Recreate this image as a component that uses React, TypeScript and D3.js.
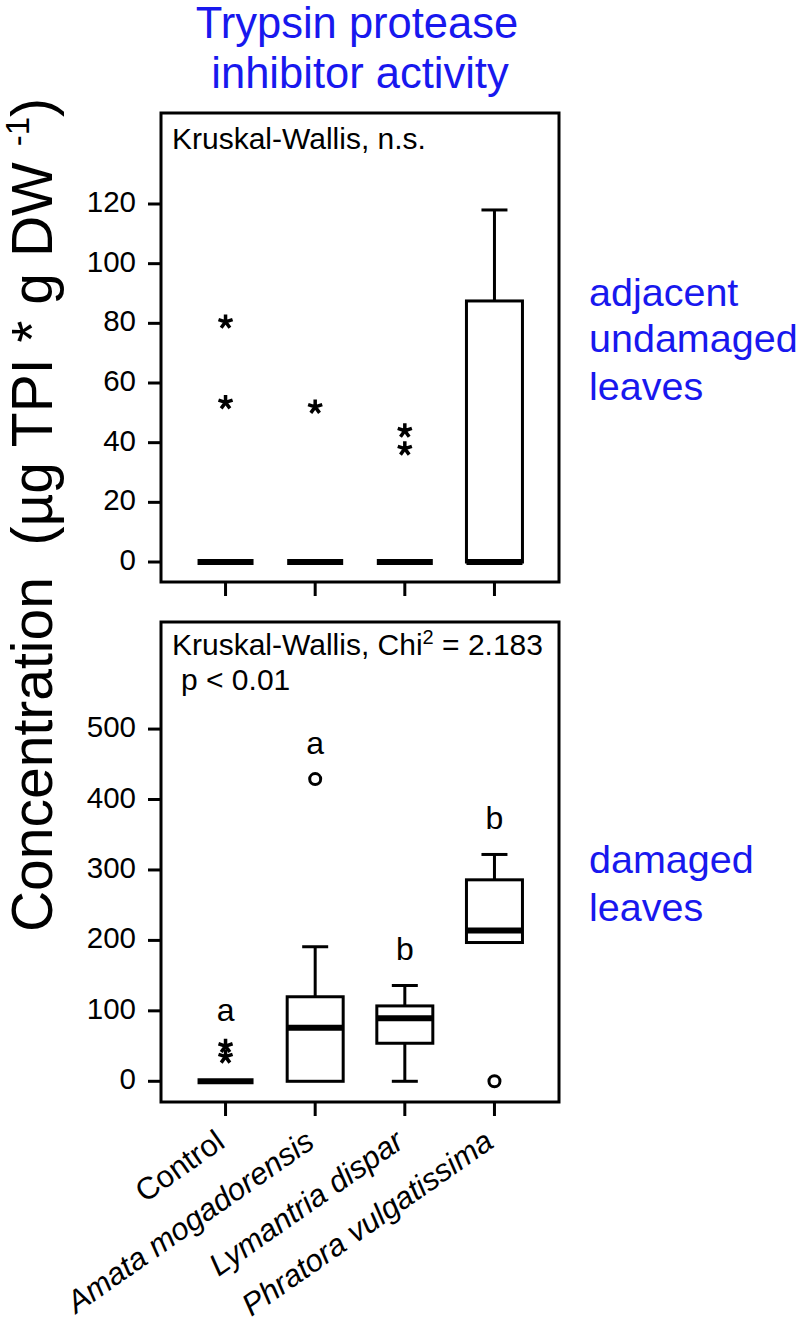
import React from 'react';
import * as d3 from 'd3';

// ---------- data ----------
const categories = ['Control', 'Amata mogadorensis', 'Lymantria dispar', 'Phratora vulgatissima'];
const italicLabel = [false, true, true, true];

// top panel: adjacent undamaged leaves
const topQ1 = [0, 0, 0, 0];
const topMedian = [0, 0, 0, 0];
const topQ3 = [0, 0, 0, 87.5];
const topWhiskerLow = [0, 0, 0, 0];
const topWhiskerHigh = [0, 0, 0, 118];
const topStars = [[80.5, 53.5], [52], [44, 38], []];
const topCircles: number[][] = [[], [], [], []];
const topTicks = [0, 20, 40, 60, 80, 100, 120];
const topTest = 'Kruskal-Wallis, n.s.';

// bottom panel: damaged leaves
const botQ1 = [0, 0, 54, 197];
const botMedian = [0, 76, 89.5, 214];
const botQ3 = [0, 120, 107, 286];
const botWhiskerLow = [0, 0, 0, 197];
const botWhiskerHigh = [0, 191, 136, 322];
const botStars = [[50, 35], [], [], []];
const botCircles = [[], [429], [], [0]];
const botLetters = ['a', 'a', 'b', 'b'];
const botTicks = [0, 100, 200, 300, 400, 500];

const FONT = '"Liberation Sans", Arial, Helvetica, sans-serif';
const BLUE = '#1818ee';

// 5-armed asterisk symbol
const asterisk = {
  draw(ctx: any, size: number) {
    const r = Math.sqrt(size) / 2;
    for (let k = 0; k < 5; k++) {
      const a = -Math.PI / 2 + (k * 2 * Math.PI) / 5;
      ctx.moveTo(0, 0);
      ctx.lineTo(r * Math.cos(a), r * Math.sin(a));
    }
  },
};
const starPath = d3.symbol().type(asterisk as any).size(220)() as string;

const x = d3.scalePoint<string>().domain(categories).range([161, 559]).padding(0.72);

type PanelProps = {
  top: number; bottom: number; domain: [number, number]; ticks: number[];
  q1: number[]; med: number[]; q3: number[]; wlo: number[]; whi: number[];
  stars: number[][]; circles: number[][]; letters?: string[];
};

function Panel(p: PanelProps) {
  const y = d3.scaleLinear().domain(p.domain).range([p.bottom, p.top]);
  const left = 161, right = 559;
  const bw = 56, cap = 26;
  return (
    <g>
      <rect x={left} y={p.top} width={right - left} height={p.bottom - p.top} fill="none" stroke="#000" strokeWidth={3} />
      {p.ticks.map((t) => (
        <g key={t}>
          <line x1={148} x2={left} y1={y(t)} y2={y(t)} stroke="#000" strokeWidth={3} />
          <text x={136} y={y(t) + 8} textAnchor="end" fontSize={29.5} fontFamily={FONT}>{t}</text>
        </g>
      ))}
      {categories.map((c) => (
        <line key={c} x1={x(c)} x2={x(c)} y1={p.bottom} y2={p.bottom + 14} stroke="#000" strokeWidth={3} />
      ))}
      {categories.map((c, i) => {
        const cx = x(c) as number;
        const hasBox = p.q3[i] > p.q1[i];
        return (
          <g key={c}>
            {p.whi[i] > p.q3[i] && (
              <g>
                <line x1={cx} x2={cx} y1={y(p.q3[i])} y2={y(p.whi[i])} stroke="#000" strokeWidth={3} />
                <line x1={cx - cap / 2} x2={cx + cap / 2} y1={y(p.whi[i])} y2={y(p.whi[i])} stroke="#000" strokeWidth={3} />
              </g>
            )}
            {p.wlo[i] < p.q1[i] && (
              <g>
                <line x1={cx} x2={cx} y1={y(p.q1[i])} y2={y(p.wlo[i])} stroke="#000" strokeWidth={3} />
                <line x1={cx - cap / 2} x2={cx + cap / 2} y1={y(p.wlo[i])} y2={y(p.wlo[i])} stroke="#000" strokeWidth={3} />
              </g>
            )}
            {hasBox && (
              <rect x={cx - bw / 2} y={y(p.q3[i])} width={bw} height={y(p.q1[i]) - y(p.q3[i])} fill="#fff" stroke="#000" strokeWidth={3} />
            )}
            <line x1={cx - bw / 2} x2={cx + bw / 2} y1={y(p.med[i])} y2={y(p.med[i])} stroke="#000" strokeWidth={6} />
            {p.stars[i].map((v, j) => (
              <path key={'s' + j} d={starPath} transform={`translate(${cx},${y(v)})`} fill="none" stroke="#000" strokeWidth={3.5} />
            ))}
            {p.circles[i].map((v, j) => (
              <circle key={'c' + j} cx={cx} cy={y(v)} r={5.5} fill="#fff" stroke="#000" strokeWidth={3} />
            ))}
            {p.letters && (
              <text x={cx} y={y(Math.max(p.whi[i], ...p.stars[i], ...p.circles[i])) - 25} textAnchor="middle" fontSize={32} fontFamily={FONT}>
                {p.letters[i]}
              </text>
            )}
          </g>
        );
      })}
    </g>
  );
}

export default function App() {
  return (
    <svg width={799} height={1322} style={{ position: 'absolute', left: 0, top: 0, background: '#fff' }} fontFamily={FONT}>
      <rect width={799} height={1322} fill="#fff" />
      <text x={357} y={38} textAnchor="middle" fontSize={43.5} fill={BLUE}>Trypsin protease</text>
      <text x={360} y={88} textAnchor="middle" fontSize={43.5} fill={BLUE}>inhibitor activity</text>

      <Panel top={113} bottom={582} domain={[-6.7, 150.5]} ticks={topTicks}
        q1={topQ1} med={topMedian} q3={topQ3} wlo={topWhiskerLow} whi={topWhiskerHigh}
        stars={topStars} circles={topCircles} />
      <text x={172} y={149} fontSize={30}>{topTest}</text>

      <Panel top={622} bottom={1102} domain={[-29.4, 652]} ticks={botTicks}
        q1={botQ1} med={botMedian} q3={botQ3} wlo={botWhiskerLow} whi={botWhiskerHigh}
        stars={botStars} circles={botCircles} letters={botLetters} />
      <text x={172} y={655} fontSize={30}>
        Kruskal-Wallis, Chi<tspan fontSize={20} dy={-11}>2</tspan><tspan dy={11}> = 2.183</tspan>
      </text>
      <text x={181} y={690} fontSize={30}>p &lt; 0.01</text>

      {categories.map((c, i) => (
        <text key={c} transform={`translate(${(x(c) as number) + 1},${1146}) rotate(-35)`} textAnchor="end"
          fontSize={31} fontStyle={italicLabel[i] ? 'italic' : 'normal'}>{c}</text>
      ))}

      <text transform="translate(52,515) rotate(-90)" textAnchor="middle" fontSize={57} style={{ whiteSpace: 'pre' }}>
        {'Concentration  (µg TPI * g DW '}<tspan fontSize={33} dy={-23}>-1</tspan><tspan dy={23}>)</tspan>
      </text>

      <g fill={BLUE} fontSize={39.5}>
        <text x={589} y={306}>adjacent</text>
        <text x={589} y={352}>undamaged</text>
        <text x={589} y={400}>leaves</text>
        <text x={589} y={873}>damaged</text>
        <text x={589} y={921}>leaves</text>
      </g>
    </svg>
  );
}
